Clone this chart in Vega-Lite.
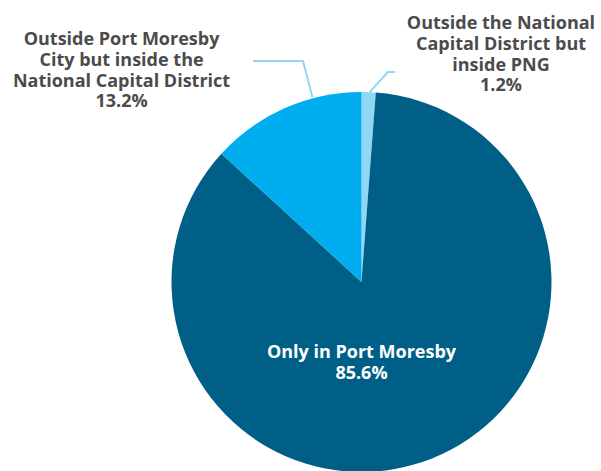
{
  "$schema": "https://vega.github.io/schema/vega-lite/v6.json",
  "width": 479,
  "height": 378,
  "padding": {"left": 122, "top": 93, "right": 0, "bottom": 0},
  "autosize": {"type": "none"},
  "background": "white",
  "config": {"view": {"stroke": null}},
  "datasets": {
    "slices": [
      {"category": "Outside the National Capital District but inside PNG", "value": 1.2, "order": 1},
      {"category": "Only in Port Moresby", "value": 85.6, "order": 2},
      {"category": "Outside Port Moresby City but inside the National Capital District", "value": 13.2, "order": 3}
    ],
    "outerLabels": [
      {"label": "Outside Port Moresby\nCity but inside the\nNational Capital District\n13.2%", "u": -1.263, "v": 1.2737},
      {"label": "Outside the National\nCapital District but\ninside PNG\n1.2%", "u": 0.734, "v": 1.358}
    ],
    "innerLabels": [
      {"label": "Only in Port Moresby\n85.6%", "u": 0, "v": -0.376}
    ],
    "leaders": [
      {"line": "left", "seq": 1, "u": -0.571, "v": 1.163},
      {"line": "left", "seq": 2, "u": -0.308, "v": 1.163},
      {"line": "left", "seq": 3, "u": -0.258, "v": 0.972},
      {"line": "right", "seq": 1, "u": 0.176, "v": 1.105},
      {"line": "right", "seq": 2, "u": 0.139, "v": 1.105},
      {"line": "right", "seq": 3, "u": 0.042, "v": 0.998}
    ]
  },
  "layer": [
    {
      "data": {"name": "slices"},
      "mark": {"type": "arc", "outerRadius": 190},
      "encoding": {
        "theta": {"field": "value", "type": "quantitative", "stack": true},
        "order": {"field": "order", "type": "quantitative"},
        "color": {
          "field": "category",
          "type": "nominal",
          "scale": {
            "domain": [
              "Outside the National Capital District but inside PNG",
              "Only in Port Moresby",
              "Outside Port Moresby City but inside the National Capital District"
            ],
            "range": ["#92d6f6", "#005f87", "#00adee"]
          },
          "legend": null
        }
      }
    },
    {
      "data": {"name": "leaders"},
      "mark": {"type": "line", "stroke": "#92d6f6", "strokeWidth": 2},
      "encoding": {
        "x": {"field": "u", "type": "quantitative", "scale": {"domain": [-1.2605, 1.2605], "nice": false, "zero": false}, "axis": null},
        "y": {"field": "v", "type": "quantitative", "scale": {"domain": [-0.9947, 0.9947], "nice": false, "zero": false}, "axis": null},
        "detail": {"field": "line", "type": "nominal"},
        "order": {"field": "seq", "type": "quantitative"}
      }
    },
    {
      "data": {"name": "outerLabels"},
      "mark": {"type": "text", "font": "Open Sans", "fontWeight": 700, "fontSize": 18, "lineHeight": 20.8, "lineBreak": "\n", "align": "center", "baseline": "middle", "color": "#4b4b4b"},
      "encoding": {
        "x": {"field": "u", "type": "quantitative"},
        "y": {"field": "v", "type": "quantitative"},
        "text": {"field": "label", "type": "nominal"}
      }
    },
    {
      "data": {"name": "innerLabels"},
      "mark": {"type": "text", "font": "Open Sans", "fontWeight": 700, "fontSize": 18, "lineHeight": 20.8, "lineBreak": "\n", "align": "center", "baseline": "middle", "color": "#ffffff"},
      "encoding": {
        "x": {"field": "u", "type": "quantitative"},
        "y": {"field": "v", "type": "quantitative"},
        "text": {"field": "label", "type": "nominal"}
      }
    }
  ]
}
